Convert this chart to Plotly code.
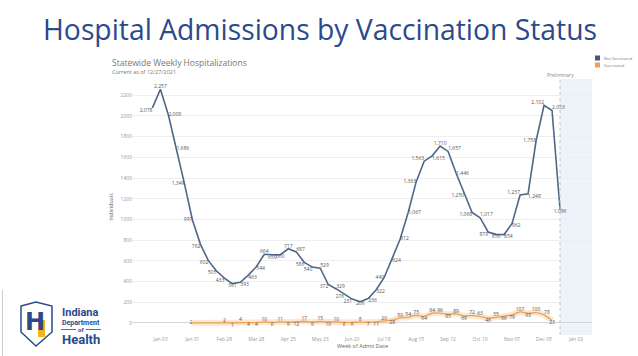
import plotly.graph_objects as go
import pandas as pd

# ---------------- data ----------------
weeks_unvax = pd.date_range("2020-12-27", periods=52, freq="7D")
not_vaccinated = [2078, 2257, 2009, 1686, 1349, 997, 762, 602, 505, 433, 381, 393, 463, 544,
                  664, 659, 660, 717, 687, 586, 540, 529, 372, 329, 276, 231, 206, 236, 322,
                  440, 624, 812, 1067, 1363, 1563, 1615, 1710, 1657, 1446, 1250, 1068, 1017,
                  879, 856, 854, 962, 1237, 1248, 1758, 2102, 2053, 1096]
weeks_vax = pd.date_range("2021-01-31", periods=46, freq="7D")
vaccinated = [2, 1, 2, 1, 2, 1, 4, 4, 4, 10, 6, 11, 9, 12, 17, 9, 15, 10, 10, 6, 6, 8, 7, 11,
              20, 28, 50, 54, 75, 64, 94, 96, 85, 89, 69, 72, 63, 46, 55, 66, 79, 107, 93, 100,
              78, 23]
vax_label_shown = [1, 0, 0, 0] + [1] * 42
tick_dates = pd.date_range("2021-01-03", periods=14, freq="28D")
tick_labels = [d.strftime("%b %d") for d in tick_dates]
y_ticks = list(range(0, 2201, 200))
series_names = ["Not Vaccinated", "Vaccinated"]
prelim_start = "2021-12-19"

# ---------------- styling helpers ----------------
W, H = 638, 356
L, R, T, B = 133, 592, 79, 335


def px(x):
    return (x - L) / (R - L)


def py(y):
    return (B - y) / (B - T)


BLUE = "#4f6788"
ORANGE = "#eda25a"
LABEL = "#555555"
NAVY = "#2b4a8b"

unvax_pos = ["bottom left", "top center", "middle right", "middle right", "middle left",
             "middle left", "bottom left", "bottom left", "bottom left", "bottom left",
             "bottom center", "bottom right", "bottom right", "bottom right", "top center",
             "bottom center", "bottom center", "top center", "top right", "bottom left",
             "bottom left", "top right", "bottom left", "top right", "bottom left",
             "bottom left", "bottom center", "bottom right", "bottom right", "middle left",
             "bottom right", "middle right", "middle right", "middle left", "top left",
             "bottom right", "top center", "top right", "middle right", "bottom left",
             "bottom left", "top right", "bottom left", "bottom center", "bottom right",
             "bottom right", "top left", "bottom right", "middle left", "top left",
             "top right", "bottom center"]
vax_pos = ["middle left", "top center", "top center", "top center",
           "top center", "bottom center", "top center", "bottom center", "bottom center",
           "top center", "bottom center", "top center", "bottom center", "bottom center",
           "top center", "bottom center", "top center", "bottom center", "top center",
           "bottom center", "bottom center", "top center", "bottom center", "bottom center",
           "top center", "bottom center", "top center", "top center", "top center",
           "bottom center", "top center", "top center", "bottom center", "top center",
           "bottom center", "top center", "top center", "bottom center", "top center",
           "bottom center", "bottom center", "top center", "bottom center", "top center",
           "top right", "bottom center"]

fig = go.Figure()

# orange halo band under vaccinated line
fig.add_trace(go.Scatter(x=weeks_vax, y=vaccinated, mode="lines",
                         line=dict(color="rgba(245,185,125,0.35)", width=6, shape="spline",
                                   smoothing=0.6),
                         hoverinfo="skip", showlegend=False))
fig.add_trace(go.Scatter(x=weeks_vax, y=vaccinated, mode="lines+text",
                         name=series_names[1],
                         line=dict(color=ORANGE, width=1.3, shape="spline", smoothing=0.6),
                         text=[f"{v:,}" if s else "" for v, s in zip(vaccinated, vax_label_shown)],
                         textposition=vax_pos,
                         textfont=dict(size=5, color=LABEL, family="Open Sans"),
                         showlegend=False))
fig.add_trace(go.Scatter(x=weeks_unvax, y=not_vaccinated, mode="lines+text",
                         name=series_names[0],
                         line=dict(color=BLUE, width=1.6),
                         text=[f"{v:,}" for v in not_vaccinated],
                         textposition=unvax_pos,
                         textfont=dict(size=5, color=LABEL, family="Open Sans"),
                         showlegend=False))

# preliminary region
fig.add_shape(type="rect", xref="x", yref="paper", x0=prelim_start, x1="2022-01-16",
              y0=0, y1=1, fillcolor="#eef3f9", line=dict(width=0), layer="below")
fig.add_shape(type="line", xref="x", yref="paper", x0=prelim_start, x1=prelim_start,
              y0=0, y1=1, line=dict(color="#b8c4d2", width=1, dash="dot"))
fig.add_annotation(x=prelim_start, y=py(80), xref="x", yref="paper", text="Preliminary",
                   showarrow=False, font=dict(size=5, color="#888888", family="Open Sans"),
                   yanchor="bottom")

fig.update_layout(
    width=W, height=H,
    margin=dict(l=L, r=W - R, t=T, b=H - B),
    paper_bgcolor="white", plot_bgcolor="white",
    font=dict(family="Open Sans", color="#888888"),
    xaxis=dict(range=["2020-12-10", "2022-01-16"], tickvals=tick_dates, ticktext=tick_labels,
               tickfont=dict(size=5, color="#999999"), showgrid=False, zeroline=False,
               showline=False, ticks="", ticklen=0, automargin=False,
               title=dict(text="Week of Admit Date", font=dict(size=5.5, color="#666666"),
                          standoff=2)),
    yaxis=dict(range=[-116, 2357], tickvals=y_ticks, ticktext=[str(v) for v in y_ticks],
               tickfont=dict(size=5, color="#999999"), showgrid=True, gridcolor="#eeeeee",
               gridwidth=0.6, zeroline=True, zerolinecolor="#d6d6d6", zerolinewidth=0.8,
               showline=False, ticks="", automargin=False,
               title=dict(text="Individuals", font=dict(size=5.5, color="#666666"),
                          standoff=6)),
)

# title / subtitles
fig.add_annotation(x=px(320), y=py(8), xref="paper", yref="paper",
                   text="Hospital Admissions by Vaccination Status",
                   xanchor="center", yanchor="top", showarrow=False,
                   font=dict(size=28.3, color=NAVY, family="Open Sans"))
fig.add_annotation(x=px(110), y=py(62), xref="paper", yref="paper",
                   text="Statewide Weekly Hospitalizations", showarrow=False,
                   xanchor="left", yanchor="middle",
                   font=dict(size=8.5, color="#777777", family="Open Sans"))
fig.add_annotation(x=px(110), y=py(72), xref="paper", yref="paper",
                   text="Current as of 12/27/2021", showarrow=False,
                   xanchor="left", yanchor="middle",
                   font=dict(size=5.5, color="#777777", family="Open Sans"))

# legend
leg_colors = ["#3d5a8c", ORANGE]
for i, (nm, c) in enumerate(zip(series_names, leg_colors)):
    yc = 58 + i * 7
    fig.add_shape(type="rect", xref="paper", yref="paper",
                  x0=px(595), x1=px(600), y0=py(yc + 2.5), y1=py(yc - 2.5),
                  fillcolor=c, line=dict(width=0))
    fig.add_annotation(x=px(601.5), y=py(yc), xref="paper", yref="paper", text=nm,
                       showarrow=False, xanchor="left", yanchor="middle",
                       font=dict(size=4, color="#777777", family="Open Sans"))

# logo
def pix_path(cmds):
    out = ""
    for c in cmds:
        if c[0] == "Z":
            out += "Z"
        else:
            out += f"{c[0]} {px(c[1]):.5f} {py(c[2]):.5f} "
    return out


shield = [("M", 21, 306), ("L", 36, 302), ("L", 52, 306), ("L", 52, 332), ("L", 36, 346),
          ("L", 21, 332), ("Z",)]
fig.add_shape(type="path", xref="paper", yref="paper", path=pix_path(shield),
              fillcolor="white", line=dict(color=NAVY, width=1.5))
fig.add_shape(type="rect", xref="paper", yref="paper", x0=px(38), x1=px(45), y0=py(337),
              y1=py(320), fillcolor="#f2b51c", line=dict(width=0))
fig.add_annotation(x=px(35), y=py(322), xref="paper", yref="paper", text="<b>H</b>",
                   showarrow=False, xanchor="center", yanchor="middle",
                   font=dict(size=24, color=NAVY, family="DejaVu Sans"))
fig.add_annotation(x=px(60), y=py(312), xref="paper", yref="paper", text="<b>Indiana</b>",
                   showarrow=False, xanchor="left", yanchor="middle",
                   font=dict(size=11, color=NAVY, family="Roboto"))
fig.add_annotation(x=px(60), y=py(323), xref="paper", yref="paper", text="<b>Department</b>",
                   showarrow=False, xanchor="left", yanchor="middle",
                   font=dict(size=7, color=NAVY, family="Roboto"))
fig.add_annotation(x=px(81), y=py(329.5), xref="paper", yref="paper", text="<b>of</b>",
                   showarrow=False, xanchor="center", yanchor="middle",
                   font=dict(size=6, color=NAVY, family="Roboto"))
for x0, x1 in [(61, 76), (86, 101)]:
    fig.add_shape(type="line", xref="paper", yref="paper", x0=px(x0), x1=px(x1),
                  y0=py(329.5), y1=py(329.5), line=dict(color=NAVY, width=0.8))
fig.add_annotation(x=px(60), y=py(339), xref="paper", yref="paper", text="<b>Health</b>",
                   showarrow=False, xanchor="left", yanchor="middle",
                   font=dict(size=13, color=NAVY, family="Roboto"))
fig.add_shape(type="line", xref="paper", yref="paper", x0=px(2.5), x1=px(2.5),
              y0=py(290), y1=py(356), line=dict(color="#cccccc", width=1))

fig.write_html("out.html", config={"displayModeBar": False},
               post_script="document.body.style.margin='0';")
